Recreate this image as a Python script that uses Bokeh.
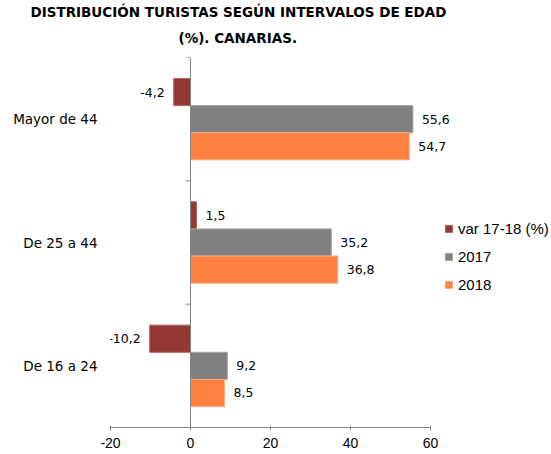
from bokeh.plotting import figure
from bokeh.models import ColumnDataSource, Range1d, FixedTicker, Legend, LegendItem, Span, Title
from bokeh.core.properties import value
from bokeh.embed import file_html
from bokeh.resources import INLINE

# ---- data ----
categories = ["Mayor de 44", "De 25 a 44", "De 16 a 24"]
series_names = ["var 17-18 (%)", "2017", "2018"]
var_17_18 = [-4.2, 1.5, -10.2]
values_2017 = [55.6, 35.2, 9.2]
values_2018 = [54.7, 36.8, 8.5]
x_ticks = [-20, 0, 20, 40, 60]
title_line1 = "DISTRIBUCIÓN TURISTAS SEGÚN INTERVALOS DE EDAD"
title_line2 = "(%). CANARIAS."

# ---- style / layout ----
colors = ["#953735", "#808080", "#FF8040"]
edges = ["#B5605E", "#A3A3A3", "#FFAB80"]
offsets = [0.22, 0.0, -0.22]
bar_h = 0.22
axis_color = "#868686"
W, H = 551, 454
BL, BT, BB = 110, 57, 27
axis_px = 320            # pixel length of the value axis (x_ticks[0]..x_ticks[-1])
frame_w = W - BL
px_per_unit = axis_px / (x_ticks[-1] - x_ticks[0])
x_end = x_ticks[0] + frame_w / px_per_unit
tick_px = 5

n = len(categories)
centers = [n - 0.5 - i for i in range(n)]
boundaries = list(range(n + 1))

p = figure(width=W, height=H,
           x_range=Range1d(x_ticks[0], x_end), y_range=Range1d(0, n),
           output_backend="svg", toolbar_location=None,
           min_border_left=BL, min_border_right=0,
           min_border_top=BT, min_border_bottom=BB)
p.outline_line_color = None
p.xgrid.visible = False
p.ygrid.visible = False

title_style = dict(text_font="DejaVu Sans", text_font_size="13.5px",
                   text_font_style="bold", text_color="#000000", align="left")
# second line (nearest to the plot) then first line
p.add_layout(Title(text=title_line2, offset=68, standoff=24, **title_style), "above")
t1 = Title(text=title_line1, offset=-80, standoff=0, **title_style)
try:
    t1.standoff = -9
except Exception:
    pass
p.title = t1

# x axis
xa = p.xaxis[0]
xa.ticker = FixedTicker(ticks=x_ticks)
xa.major_label_overrides = {t: str(t) for t in x_ticks}
xa.bounds = (x_ticks[0], x_ticks[-1])
xa.axis_line_color = axis_color
xa.major_tick_line_color = axis_color
xa.major_tick_in = 2
xa.major_tick_out = 3
xa.minor_tick_line_color = None
xa.major_label_text_font = "Liberation Sans"
xa.major_label_text_font_size = "14px"
xa.major_label_text_color = "#000000"
xa.major_label_standoff = 7

# category label axis (left)
ya = p.yaxis[0]
ya.ticker = FixedTicker(ticks=centers)
ya.major_label_overrides = {c: name for c, name in zip(centers, categories)}
ya.axis_line_color = None
ya.major_tick_line_color = None
ya.minor_tick_line_color = None
ya.major_tick_out = 0
ya.major_tick_in = 0
ya.major_label_standoff = 13
ya.major_label_text_font = "DejaVu Sans"
ya.major_label_text_font_size = "13.5px"
ya.major_label_text_color = "#000000"

# zero line with ticks at category boundaries
p.add_layout(Span(location=0, dimension="height", line_color=axis_color, line_width=1))
tick_len = tick_px / px_per_unit
p.segment(x0=[0] * len(boundaries), x1=[-tick_len] * len(boundaries),
          y0=boundaries, y1=boundaries, line_color=axis_color, line_width=1)

series_values = [var_17_18, values_2017, values_2018]
items = []
for name, vals, col, ec, off in zip(series_names, series_values, colors, edges, offsets):
    ys = [c + off for c in centers]
    src = ColumnDataSource(dict(
        y=ys, right=vals,
        lbl=[f"{v:.1f}".replace(".", ",") for v in vals],
        align=["left" if v >= 0 else "right" for v in vals],
        xo=[9 if v >= 0 else -9 for v in vals],
    ))
    r = p.hbar(y="y", left=0, right="right", height=bar_h, source=src,
               fill_color=col, line_color=ec, line_width=1)
    p.text(x="right", y="y", text="lbl", source=src, x_offset="xo",
           text_align="align", text_baseline="middle",
           text_font=value("DejaVu Sans"), text_font_size="12.5px",
           text_color="#000000")
    items.append(LegendItem(label=name, renderers=[r]))

legend = Legend(items=items, location=(334, 134),
                glyph_width=9, glyph_height=9, label_standoff=5,
                spacing=11, label_height=15, padding=0, margin=0,
                border_line_color=None, background_fill_alpha=0,
                label_text_font="Liberation Sans", label_text_font_size="15px",
                label_text_color="#000000")
p.add_layout(legend)

open("out.html", "w").write(file_html(p, INLINE))
